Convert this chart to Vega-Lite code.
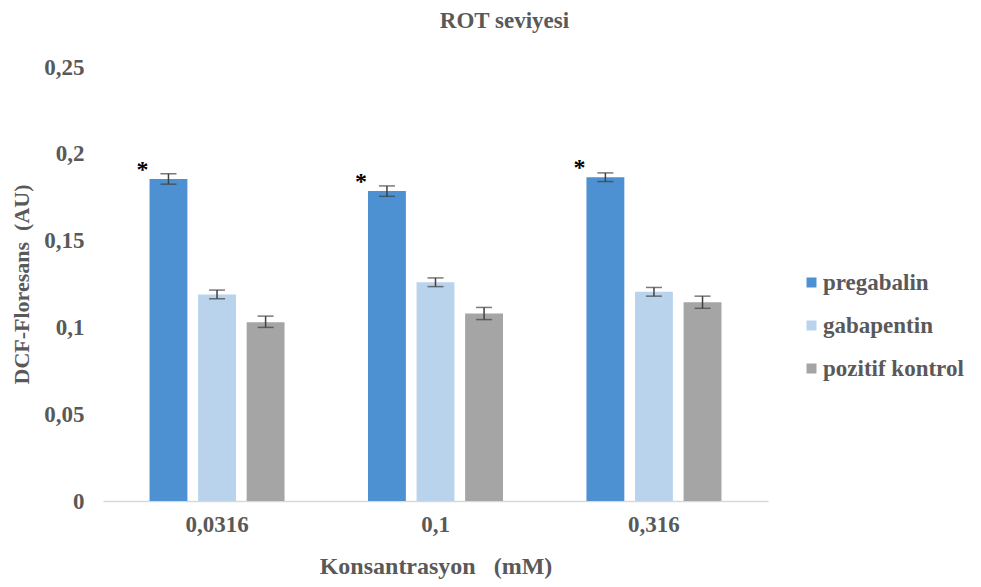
{
  "$schema": "https://vega.github.io/schema/vega-lite/v6.json",
  "autosize": {"type": "none"},
  "width": 665,
  "height": 434,
  "padding": {"left": 103, "top": 67, "right": 213, "bottom": 86},
  "background": "white",
  "title": {
    "text": "ROT seviyesi",
    "font": "Liberation Serif",
    "fontSize": 23,
    "fontWeight": "bold",
    "color": "#595959",
    "anchor": "middle",
    "frame": "group",
    "dx": 69,
    "offset": 23
  },
  "config": {
    "view": {"stroke": null},
    "font": "Liberation Serif",
    "legend": {"labelFont": "Liberation Serif", "labelFontWeight": "bold"}
  },
  "data": {
    "values": [
      {"konsantrasyon": "0,0316", "grup": "pregabalin", "deger": 0.1855, "alt": 0.1825, "ust": 0.1885, "yildiz": "*"},
      {"konsantrasyon": "0,0316", "grup": "gabapentin", "deger": 0.119, "alt": 0.1165, "ust": 0.1215, "yildiz": ""},
      {"konsantrasyon": "0,0316", "grup": "pozitif kontrol", "deger": 0.103, "alt": 0.1, "ust": 0.1065, "yildiz": ""},
      {"konsantrasyon": "0,1", "grup": "pregabalin", "deger": 0.1785, "alt": 0.1755, "ust": 0.1815, "yildiz": "*"},
      {"konsantrasyon": "0,1", "grup": "gabapentin", "deger": 0.126, "alt": 0.1235, "ust": 0.1285, "yildiz": ""},
      {"konsantrasyon": "0,1", "grup": "pozitif kontrol", "deger": 0.108, "alt": 0.1045, "ust": 0.1115, "yildiz": ""},
      {"konsantrasyon": "0,316", "grup": "pregabalin", "deger": 0.1865, "alt": 0.184, "ust": 0.189, "yildiz": "*"},
      {"konsantrasyon": "0,316", "grup": "gabapentin", "deger": 0.1205, "alt": 0.118, "ust": 0.123, "yildiz": ""},
      {"konsantrasyon": "0,316", "grup": "pozitif kontrol", "deger": 0.1145, "alt": 0.111, "ust": 0.118, "yildiz": ""}
    ]
  },
  "encoding": {
    "x": {
      "field": "konsantrasyon",
      "type": "nominal",
      "sort": ["0,0316", "0,1", "0,316"],
      "scale": {"paddingInner": 0.382, "paddingOuter": 0.213},
      "axis": {
        "title": "Konsantrasyon\u00a0\u00a0\u00a0(mM)",
        "titleFont": "Liberation Serif",
        "titleFontSize": 24,
        "titleFontWeight": "bold",
        "titleColor": "#595959",
        "titlePadding": 18,
        "labelFont": "Liberation Serif",
        "labelFontSize": 23,
        "labelFontWeight": "bold",
        "labelColor": "#595959",
        "labelAngle": 0,
        "labelPadding": 12,
        "ticks": false,
        "domainColor": "#d9d9d9",
        "domainWidth": 1.5,
        "grid": false
      }
    },
    "xOffset": {
      "field": "grup",
      "type": "nominal",
      "sort": ["pregabalin", "gabapentin", "pozitif kontrol"],
      "scale": {"paddingInner": 0.22, "paddingOuter": 0}
    }
  },
  "layer": [
    {
      "mark": {"type": "bar"},
      "encoding": {
        "y": {
          "field": "deger",
          "type": "quantitative",
          "scale": {"domain": [0, 0.25], "nice": false, "padding": 0, "zero": true},
          "axis": {
            "title": "DCF-Floresans\u00a0\u00a0(AU)",
            "titleFont": "Liberation Serif",
            "titleFontSize": 22,
            "titleFontWeight": "bold",
            "titleColor": "#595959",
            "titlePadding": 10,
            "values": [0, 0.05, 0.1, 0.15, 0.2, 0.25],
            "format": "~g",
            "labelExpr": "replace(datum.label, '.', ',')",
            "labelFont": "Liberation Serif",
            "labelFontSize": 23,
            "labelFontWeight": "bold",
            "labelColor": "#595959",
            "labelPadding": 19,
            "ticks": false,
            "domain": false,
            "grid": false
          }
        },
        "color": {
          "field": "grup",
          "type": "nominal",
          "sort": ["pregabalin", "gabapentin", "pozitif kontrol"],
          "scale": {
            "domain": ["pregabalin", "gabapentin", "pozitif kontrol"],
            "range": ["#4d91d3", "#bad3ec", "#a5a5a5"]
          },
          "legend": {
            "title": null,
            "orient": "none",
            "legendX": 697,
            "legendY": 204,
            "symbolType": "square",
            "symbolSize": 100,
            "symbolStrokeWidth": 0,
            "labelFont": "Liberation Serif",
            "labelFontSize": 23,
            "labelFontWeight": "bold",
            "labelColor": "#595959",
            "labelOffset": 0,
            "rowPadding": 19
          }
        }
      }
    },
    {
      "mark": {"type": "rule", "color": "#404040", "strokeWidth": 1.5},
      "encoding": {
        "y": {"field": "alt", "type": "quantitative"},
        "y2": {"field": "ust"}
      }
    },
    {
      "mark": {"type": "tick", "orient": "horizontal", "color": "#404040", "thickness": 1.5, "size": 16},
      "encoding": {
        "y": {"field": "alt", "type": "quantitative"}
      }
    },
    {
      "mark": {"type": "tick", "orient": "horizontal", "color": "#404040", "thickness": 1.5, "size": 16},
      "encoding": {
        "y": {"field": "ust", "type": "quantitative"}
      }
    },
    {
      "mark": {"type": "text", "font": "Liberation Serif", "fontSize": 24, "fontWeight": "bold", "color": "#000000", "dx": -26, "dy": -9, "baseline": "middle"},
      "encoding": {
        "y": {"field": "deger", "type": "quantitative"},
        "text": {"field": "yildiz"}
      }
    }
  ]
}
